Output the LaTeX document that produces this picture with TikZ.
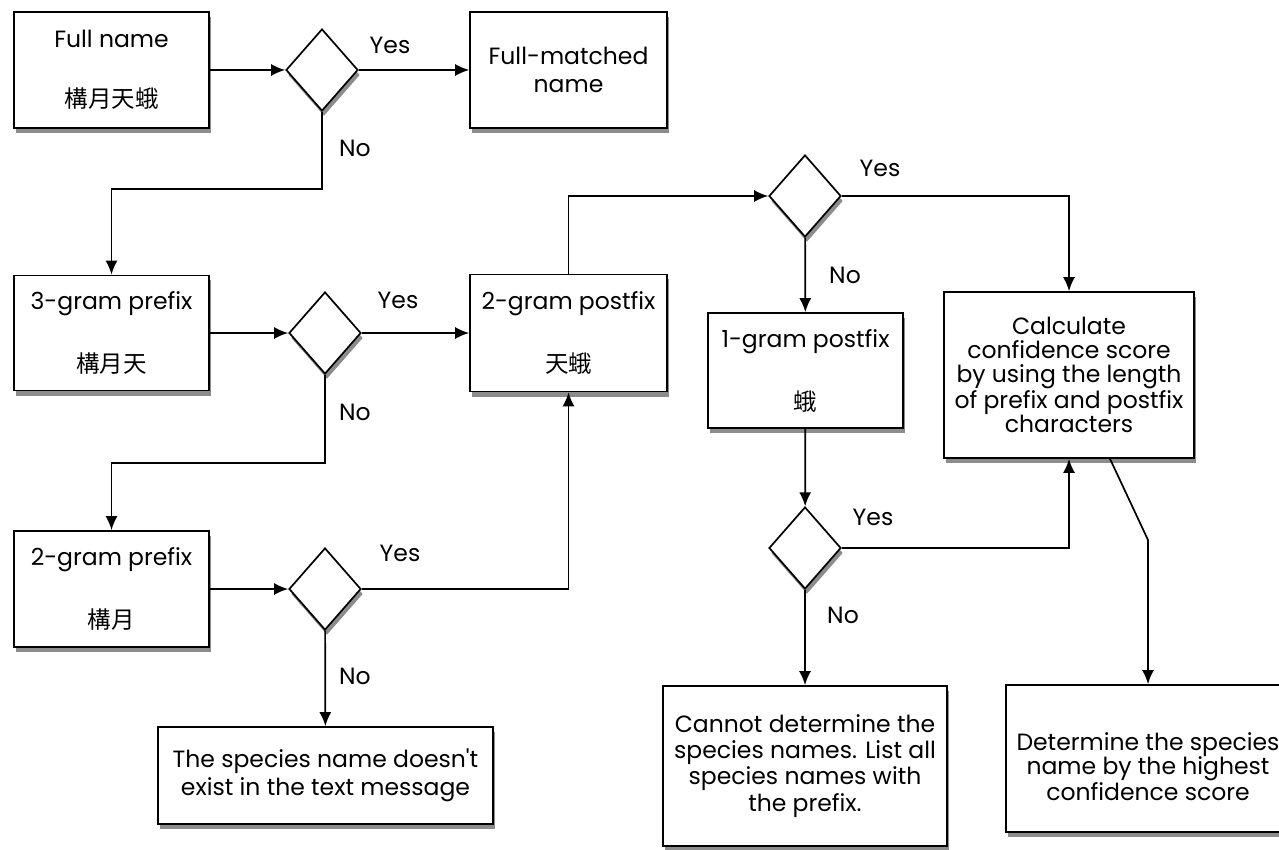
\documentclass[tikz,border=0pt]{standalone}
\usepackage{fontspec}
\setmainfont{Poppins}
\newfontfamily\cjk{Noto Sans CJK TC}
\usetikzlibrary{shapes.geometric,arrows.meta,shadows}

\begin{document}
\begin{tikzpicture}[x=1pt,y=-1pt,line width=1.7pt,
>={Latex[length=14pt,width=12pt]},
every node/.style={font=\fontsize{23.5}{24}\selectfont},
boxshadow/.style={drop shadow={shadow xshift=2pt,shadow yshift=-5pt,fill=black!75,opacity=.6}},
blockbox/.style={draw,fill=white,rectangle,align=center,inner sep=3pt,boxshadow},
decision/.style={draw,fill=white,diamond,minimum width=72pt,minimum height=82pt,
  inner sep=0pt,boxshadow},
answer/.style={inner sep=0pt}]
\useasboundingbox (0,0) rectangle (1279,850);

% first column
\node (full) [blockbox,minimum width=195pt,minimum height=116pt] at (111.5,70)
  {Full name\\[36pt]{\cjk 構月天蛾}};
\node (d1) [decision] at (322,70) {};
\node (matched) [blockbox,minimum width=197pt,minimum height=116pt] at (568.5,70)
  {Full-matched\\[4pt]name};

\node (tri) [blockbox,minimum width=195pt,minimum height=115pt] at (111.5,333)
  {3-gram prefix\\[36pt]{\cjk 構月天}};
\node (d2) [decision] at (325,333) {};
\node (post2) [blockbox,minimum width=197pt,minimum height=117pt] at (568.5,333)
  {2-gram postfix\\[36pt]{\cjk 天蛾}};

\node (bi) [blockbox,minimum width=195pt,minimum height=116pt] at (111.5,589)
  {2-gram prefix\\[36pt]{\cjk 構月}};
\node (d3) [decision] at (325,589) {};
\node (none) [blockbox,minimum width=335pt,minimum height=97pt] at (325.5,775.5)
  {The species name doesn\textquotesingle t\\[4pt]exist in the text message};

% right part
\node (d4) [decision] at (805,196) {};
\node (post1) [blockbox,minimum width=195pt,minimum height=115pt] at (805.5,370.5)
  {1-gram postfix\\[36pt]{\cjk 蛾}};
\node (d5) [decision] at (805,548) {};
\node (cannot) [blockbox,minimum width=284pt,minimum height=160pt] at (805,766)
  {Cannot determine the\\[2pt]species names. List all\\[2pt]species names with\\[2pt]the prefix.};
\node (calc) [blockbox,minimum width=250pt,minimum height=166pt] at (1069,375)
  {Calculate\\confidence score\\by using the length\\of prefix and postfix\\characters};
\node (det) [blockbox,minimum width=284pt,minimum height=147pt] at (1148,758.5)
  {\rule{0pt}{34pt}Determine the species\\name by the highest\\confidence score};
\coordinate (bend) at (1148,540);

% connectors
\draw[->] (full) -- (d1);
\draw[->] (d1) -- (matched);
\draw[->] (d1.south) -- ++(0,77) -| (tri.north);
\draw[->] (tri) -- (d2);
\draw[->] (d2) -- (post2);
\draw[->] (d2.south) -- ++(0,88) -| (bi.north);
\draw[->] (bi) -- (d3);
\draw[->] (d3.east) -| (post2.south);
\draw[->] (d3) -- (none);
\draw[->] (post2.north) |- (d4.west);
\draw[->] (d4.east) -| (calc.north);
\draw[->] (d4) -- (post1);
\draw[->] (post1) -- (d5);
\draw[->] (d5.east) -| (calc.south);
\draw[->] (d5) -- (cannot);
\draw[->] ([xshift=41pt]calc.south) -- (bend) -- (det.north);

% labels
\node (y1) [answer] at (390,45) {Yes};
\node (n1) [answer] at (355,148) {No};
\node (y2) [answer] at (398,300) {Yes};
\node (n2) [answer] at (355,412) {No};
\node (y3) [answer] at (400,553) {Yes};
\node (n3) [answer] at (355,676) {No};
\node (y4) [answer] at (880,168) {Yes};
\node (n4) [answer] at (845,275) {No};
\node (y5) [answer] at (873,517) {Yes};
\node (n5) [answer] at (843,615) {No};

\end{tikzpicture}
\end{document}
